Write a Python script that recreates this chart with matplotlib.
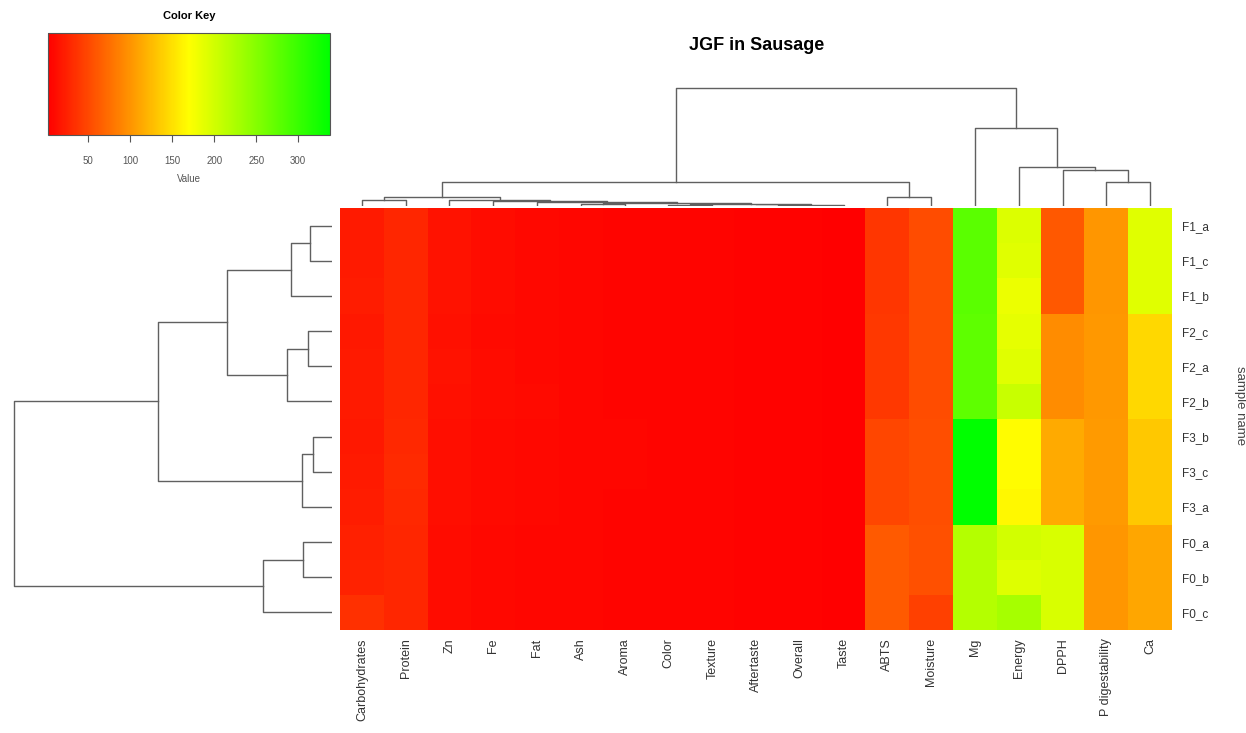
import numpy as np
import matplotlib.pyplot as plt
from matplotlib.colors import LinearSegmentedColormap
import matplotlib as mpl

plt.rcParams['font.family'] = ['Liberation Sans', 'DejaVu Sans']

# samples in display order (top to bottom)
samples = ['F1_a', 'F1_c', 'F1_b', 'F2_c', 'F2_a', 'F2_b',
           'F3_b', 'F3_c', 'F3_a', 'F0_a', 'F0_b', 'F0_c']

# traits in display order (left to right)
traits = ['Carbohydrates', 'Protein', 'Zn', 'Fe', 'Fat', 'Ash', 'Aroma', 'Color',
          'Texture', 'Aftertaste', 'Overall', 'Taste', 'ABTS', 'Moisture', 'Mg',
          'Energy', 'DPPH', 'P digestability', 'Ca']

# values per trait, one per sample (same order as samples)
carbohydrates = [20, 20, 21, 19, 20, 20, 19, 20, 21, 24, 25, 34]
protein = [27, 28, 28, 27, 28, 28, 29, 30, 29, 27, 27, 28]
zn = [14, 15, 14, 13, 14, 13, 12, 12, 12, 10, 10, 10]
fe = [10, 10, 10, 9, 10, 10, 9, 9, 9, 8, 8, 8]
fat = [8, 8, 8, 8, 8, 9, 8, 8, 8, 7, 7, 7]
ash = [6, 6, 6, 6, 6, 6, 6, 6, 6, 6, 6, 6]
aroma = [5, 5, 5, 5, 5, 5, 6, 6, 5, 5, 5, 5]
color = [5, 5, 5, 5, 5, 5, 5, 5, 5, 5, 5, 5]
texture = [5, 5, 5, 5, 5, 5, 5, 5, 5, 5, 5, 5]
aftertaste = [4, 4, 4, 4, 4, 4, 4, 4, 4, 4, 4, 4]
overall = [4, 4, 4, 4, 4, 4, 4, 4, 4, 4, 4, 4]
taste = [2, 2, 2, 2, 2, 2, 2, 2, 2, 2, 2, 2]
abts = [38, 38, 38, 40, 40, 40, 48, 48, 48, 62, 62, 62]
moisture = [52, 52, 52, 52, 52, 52, 54, 54, 54, 55, 55, 45]
mg = [278, 278, 278, 276, 276, 276, 338, 338, 338, 219, 219, 219]
energy = [193, 190, 182, 187, 190, 206, 168, 168, 166, 200, 192, 229]
dpph = [61, 61, 61, 94, 94, 94, 114, 114, 114, 196, 196, 196]
p_digestability = [101, 101, 101, 102, 102, 102, 104, 104, 104, 101, 101, 101]
ca = [190, 190, 190, 144, 144, 144, 134, 134, 134, 111, 111, 111]

columns = [carbohydrates, protein, zn, fe, fat, ash, aroma, color, texture,
           aftertaste, overall, taste, abts, moisture, mg, energy, dpph,
           p_digestability, ca]

# dendrograms as nested (height, left, right), leaves are display indices
row_tree = (318, (174, (105, (41, (22, 0, 1), 2), (45, (24, 3, 4), 5)),
                   (30, (19, 6, 7), 8)),
            (69, (29, 9, 10), 11))
col_tree = (118, (24, (9, (6, 0, 1),
                          (6, 2, (5, 3, (4, 4, (3, (2, 5, 6),
                                                   (2, (1.5, 7, 8), (1, (0.5, 9, 10), 11))))))),
                  (9, 12, 13)),
            (78, 14, (39, 15, (36, 16, (24, 17, 18)))))


def dendro_lines(node):
    """Returns (position, height, list of segments) for a nested tree."""
    if isinstance(node, int):
        return node + 0.5, 0, []
    h, left, right = node
    pl, hl, sl = dendro_lines(left)
    pr, hr, sr = dendro_lines(right)
    segs = sl + sr + [([pl, pl, pr, pr], [hl, h, h, hr])]
    return (pl + pr) / 2, h, segs


data = np.array(columns).T
cmap = LinearSegmentedColormap.from_list('rg', ['#FF0000', '#FFFF00', '#00FF00'])
vmin, vmax = data.min(), data.max()

W, H = 1246, 733
fig = plt.figure(figsize=(W / 100, H / 100), dpi=100)


def box(x0, y0, x1, y1):
    return [x0 / W, 1 - y1 / H, (x1 - x0) / W, (y1 - y0) / H]


# heatmap
ax = fig.add_axes(box(340, 208, 1172, 630))
ax.pcolormesh(np.arange(len(traits) + 1), np.arange(len(samples) + 1), data,
              cmap=cmap, vmin=vmin, vmax=vmax)
ax.set_xlim(0, len(traits))
ax.set_ylim(len(samples), 0)
ax.set_xticks(np.arange(len(traits)) + 0.5)
ax.set_xticklabels(traits, rotation=90, fontsize=9, color='#333333')
ax.set_yticks(np.arange(len(samples)) + 0.5)
ax.set_yticklabels(samples, fontsize=8.5, color='#333333')
ax.yaxis.tick_right()
ax.tick_params(axis='x', length=0, pad=6)
ax.tick_params(axis='y', length=0, pad=7)
for s in ax.spines.values():
    s.set_visible(False)
fig.text(1240 / W, 1 - 406 / H, 'sample name', rotation=270, fontsize=9.5,
         color='#444444', ha='center', va='center')

# row dendrogram
axr = fig.add_axes(box(10, 208, 332, 630))
for xs, ys in dendro_lines(row_tree)[2]:
    axr.plot(ys, xs, color='#606060', lw=1)
axr.set_ylim(len(samples), 0)
axr.set_xlim(322, 0)
axr.axis('off')

# column dendrogram
axc = fig.add_axes(box(340, 85, 1172, 206))
for xs, ys in dendro_lines(col_tree)[2]:
    axc.plot(xs, ys, color='#606060', lw=1)
axc.set_xlim(0, len(traits))
axc.set_ylim(0, 121)
axc.axis('off')

# color key
axk = fig.add_axes(box(48, 33, 330, 135))
sm = mpl.cm.ScalarMappable(cmap=cmap, norm=mpl.colors.Normalize(vmin, vmax))
cb = fig.colorbar(sm, cax=axk, orientation='horizontal', ticks=[50, 100, 150, 200, 250, 300])
cb.outline.set_linewidth(0.8)
cb.outline.set_edgecolor('#555555')
axk.tick_params(labelsize=7, length=5, pad=10, colors='#555555')
axk.set_xlabel('Value', fontsize=7, color='#555555', labelpad=6)
axk.set_title('Color Key', fontsize=8, fontweight='bold', pad=10)

fig.text(757 / W, 1 - 46 / H, 'JGF in Sausage', ha='center', va='center',
         fontsize=13, fontweight='bold')

fig.savefig('out.png', dpi=100)
